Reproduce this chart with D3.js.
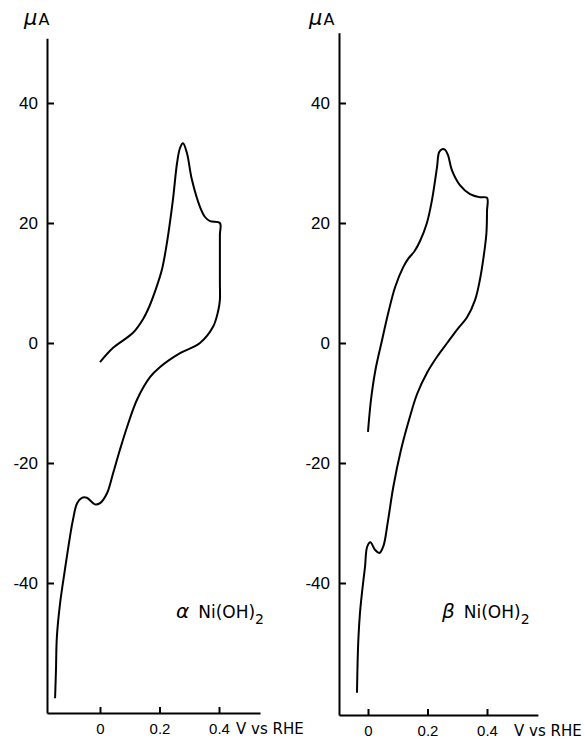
<!DOCTYPE html>
<html>
<head>
<meta charset="utf-8">
<script src="https://cdn.jsdelivr.net/npm/d3@7"></script>
<style>
  body { margin: 0; background: #fff; }
  svg { display: block; font-family: "DejaVu Sans", sans-serif; }
  .axis path, .axis line { stroke: #000; stroke-width: 2; }
  .axis text { font-size: 17px; fill: #000; }
  .x-axis text { font-size: 15px; }
</style>
</head>
<body>
<div id="content"></div>
<script>
// alpha Ni(OH)2 voltammogram (V vs RHE, microamps)
const alphaV = [0, 0.044, 0.111, 0.145, 0.165, 0.185, 0.208, 0.225, 0.245, 0.259, 0.269, 0.279, 0.292, 0.309, 0.336, 0.353, 0.370, 0.403,
                0.403, 0.403, 0.403, 0.397, 0.380, 0.336, 0.269, 0.202, 0.168, 0.124, 0.091, 0.067, 0.044, 0.024, 0, -0.017,
                -0.044, -0.061, -0.077, -0.091, -0.101, -0.118, -0.134, -0.145, -0.148, -0.151];
const alphaI = [-3.2, -0.8, 1.7, 4.0, 6.0, 8.6, 12.2, 16.7, 23.8, 30, 32.5, 33.3, 31.7, 27.2, 22.7, 21, 20.3, 20.0,
                18, 10, 7.2, 5.3, 2.7, 0, -1.7, -4, -5.7, -9.5, -14, -17.8, -21.7, -25, -26.7, -26.9,
                -25.8, -25.8, -26.7, -29.5, -32.3, -37.8, -43.3, -49, -54.5, -59.2];

// beta Ni(OH)2
const betaV = [0, 0.010, 0.025, 0.045, 0.068, 0.091, 0.118, 0.136, 0.155, 0.175, 0.198, 0.215, 0.232, 0.239, 0.249, 0.259, 0.269, 0.282, 0.309, 0.343, 0.376, 0.400,
               0.400, 0.398, 0.387, 0.376, 0.360, 0.333, 0.299, 0.266, 0.232, 0.198, 0.165, 0.138, 0.110, 0.085, 0.066, 0.052,
               0.038, 0.024, 0.008, -0.003, -0.010, -0.020, -0.027, -0.032, -0.035, -0.037];
const betaI = [-14.8, -9.5, -4.5, 0, 5, 9.3, 12.6, 14.1, 15.2, 17.0, 20, 23.8, 29.3, 31.8, 32.3, 32.2, 31.3, 28.8, 26.3, 24.8, 24.3, 24.2,
               22, 18.3, 13.8, 10.5, 7.2, 4.3, 2.2, 0, -2.3, -5, -8.5, -12.8, -18, -24, -30, -33.8,
               -35, -34.5, -33.2, -34, -37.3, -41.5, -45, -49, -53.3, -58.3];

const yTicks = [40, 20, 0, -20, -40];
const xTicks = [0, 0.2, 0.4];
const panelLabels = ["α", "β"];

const width = 585;
const height = 739;
const pxPerVolt = 297.5;
const pxPerMicroAmp = 6;
const zeroY = 343;

const svg = d3.select("#content")
    .append("svg")
    .attr("width", width)
    .attr("height", height);

svg.append("rect").attr("width", width).attr("height", height).attr("fill", "#fff");

const panels = [
    { v: alphaV, i: alphaI, axisX: 47, zeroX: 100, xMax: 0.538, yMin: -61.67, yMax: 50.8, label: panelLabels[0], labelX: 176, unitX: 24, vsX: 236 },
    { v: betaV, i: betaI, axisX: 339, zeroX: 368, xMax: 0.571, yMin: -62.0, yMax: 51.7, label: panelLabels[1], labelX: 442, unitX: 309, vsX: 514 }
];

panels.forEach(p => {
    const xMin = (p.axisX - p.zeroX) / pxPerVolt;
    const xScale = d3.scaleLinear()
        .domain([xMin, p.xMax])
        .range([p.axisX, p.zeroX + p.xMax * pxPerVolt]);
    const yScale = d3.scaleLinear()
        .domain([p.yMin, p.yMax])
        .range([zeroY - p.yMin * pxPerMicroAmp, zeroY - p.yMax * pxPerMicroAmp]);

    const yAxis = d3.axisLeft(yScale)
        .tickValues(yTicks)
        .tickSizeInner(-7)
        .tickSizeOuter(0)
        .tickPadding(9)
        .tickFormat(d => d < 0 ? "-" + Math.abs(d) : d);
    const xAxis = d3.axisBottom(xScale)
        .tickValues(xTicks)
        .tickSizeInner(-6)
        .tickSizeOuter(0)
        .tickPadding(10)
        .tickFormat(d => d === 0 ? "0" : d3.format(".1f")(d));

    svg.append("g")
        .attr("class", "axis")
        .attr("transform", `translate(${p.axisX}, 0)`)
        .call(yAxis);
    svg.append("g")
        .attr("class", "axis x-axis")
        .attr("transform", `translate(0, ${yScale(p.yMin)})`)
        .call(xAxis);

    const pts = p.v.map((v, k) => [v, p.i[k]]);
    const line = d3.line()
        .x(d => xScale(d[0]))
        .y(d => yScale(d[1]))
        .curve(d3.curveCatmullRom.alpha(0.5));
    svg.append("path")
        .datum(pts)
        .attr("d", line)
        .attr("fill", "none")
        .attr("stroke", "#000")
        .attr("stroke-width", 2);

    const unit = svg.append("text")
        .attr("x", p.unitX)
        .attr("y", 25);
    unit.append("tspan").attr("font-size", 21).attr("font-style", "italic").text("μ");
    unit.append("tspan").attr("font-size", 16).attr("dx", 1).text("A");

    svg.append("text")
        .attr("x", p.vsX)
        .attr("y", yScale(p.yMin) + 21)
        .attr("font-size", 15)
        .text("V vs RHE");

    const lab = svg.append("text")
        .attr("x", p.labelX)
        .attr("y", 618)
        .attr("font-size", 17);
    lab.append("tspan").attr("font-style", "italic").attr("font-size", 20).text(p.label);
    lab.append("tspan").attr("dx", 9).text("Ni(OH)");
    lab.append("tspan").attr("dy", 6).attr("font-size", 14).text("2");
});
</script>
</body>
</html>
